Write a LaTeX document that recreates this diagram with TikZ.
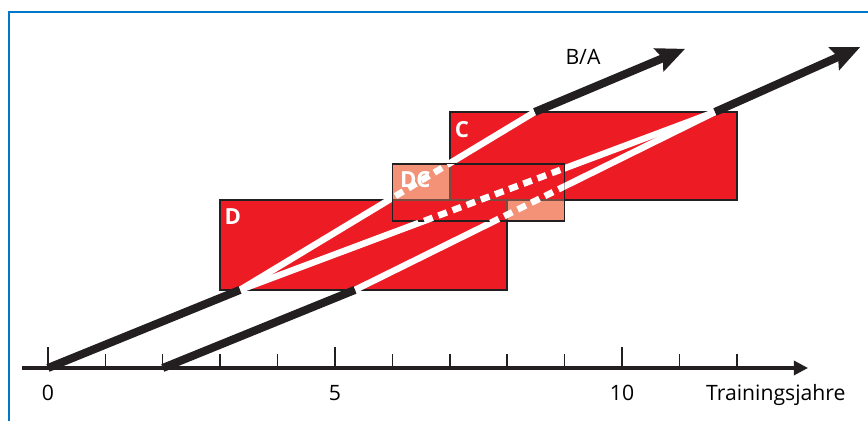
\documentclass[tikz,border=0pt]{standalone}
\usepackage{fontspec}
\setmainfont{Open Sans}
\usetikzlibrary{arrows.meta}
\definecolor{Frame}{RGB}{0,120,200}
\definecolor{Bar}{RGB}{237,28,36}
\definecolor{Pale}{RGB}{244,146,120}
\definecolor{Edge}{RGB}{35,31,32}

\begin{document}
\begin{tikzpicture}[font=\fontsize{10.5}{12}\selectfont,
  phase/.style={fill=Bar,draw=Edge,line width=.8pt},
  course/.style={line width=4pt,Edge},
  ahead/.style={-{Stealth[length=14pt,width=12pt,inset=2pt]}},
  trace/.style={line width=3.2pt,white},
  hidden/.style={trace,dash pattern=on 4.5pt off 3pt},
  tag/.style={font=\fontsize{11}{13}\selectfont\bfseries,text=white,inner sep=0pt},
  tick/.style={line width=.7pt,Edge}]
\useasboundingbox (-0.836,-0.923) rectangle (14.286,6.411);
% frame
\draw[Frame,line width=1pt] (-0.68,-0.923) -- (-0.68,6.2) -- (14.286,6.2);
% phases D and C
\draw[phase] (3,1.36) rectangle (8,2.93);
\draw[phase] (7,2.93) rectangle (12,4.46);
\node[tag] (dlab) at (3.22,2.63) {D};
\node[tag] (clab) at (7.21,4.15) {C};
% time axis
\coordinate (ax0) at (-0.45,0);
\coordinate (ax1) at (13.24,0);
\foreach \x in {1,2,3,4,6,7,8,9,11,12} \draw[tick] (\x,0) -- (\x,0.24);
\foreach \x in {0,5,10} \draw[tick] (\x,0) -- (\x,0.37);
\draw[line width=1.5pt,Edge,-{Triangle[length=7pt,width=7pt]}] (ax0) -- (ax1);
\node[anchor=base] (n0) at (0,-0.56) {0};
\node[anchor=base] (n5) at (5,-0.56) {5};
\node[anchor=base] (n10) at (10,-0.56) {10};
\node[anchor=base] (unit) at (12.68,-0.56) {Trainingsjahre};
% courses
\coordinate (a0) at (0,0);
\coordinate (b0) at (2,0);
\coordinate (a1) at (3.345,1.36);
\coordinate (b1) at (5.348,1.36);
\coordinate (up) at (8.48,4.46);
\coordinate (lo) at (11.62,4.46);
\coordinate (uptip) at (11.1,5.56);
\coordinate (lotip) at (14.15,5.59);
\draw[trace] (a1) -- (up);
\draw[trace] (a1) -- (lo);
\draw[trace] (b1) -- (lo);
\draw[course] (a0) -- (a1);
\draw[course] (b0) -- (b1);
\draw[course,ahead] (up) -- (uptip);
\draw[course,ahead] (lo) -- (lotip);
\node (ba) at (9.32,5.42) {B/A};
% overlap DC
\fill[Pale] (6,2.56) rectangle (9,3.55);
\fill[Bar] (6,2.56) rectangle (8,2.93);
\fill[Bar] (7,2.93) rectangle (9,3.55);
\begin{scope}
\clip (6,2.56) rectangle (9,3.55);
\draw[Edge!60!Pale,line width=.8pt] (3,1.36) rectangle (8,2.93) (7,2.93) rectangle (12,4.46);
\end{scope}
\draw[Edge,line width=.8pt] (6,2.56) rectangle (9,3.55);
\node[tag] (dclab) at (6.4,3.29) {DC};
\begin{scope}
\clip (6,2.56) rectangle (9,3.55);
\draw[hidden] (a1) -- (up);
\draw[hidden] (a1) -- (lo);
\draw[hidden] (b1) -- (lo);
\end{scope}
\end{tikzpicture}
\end{document}
